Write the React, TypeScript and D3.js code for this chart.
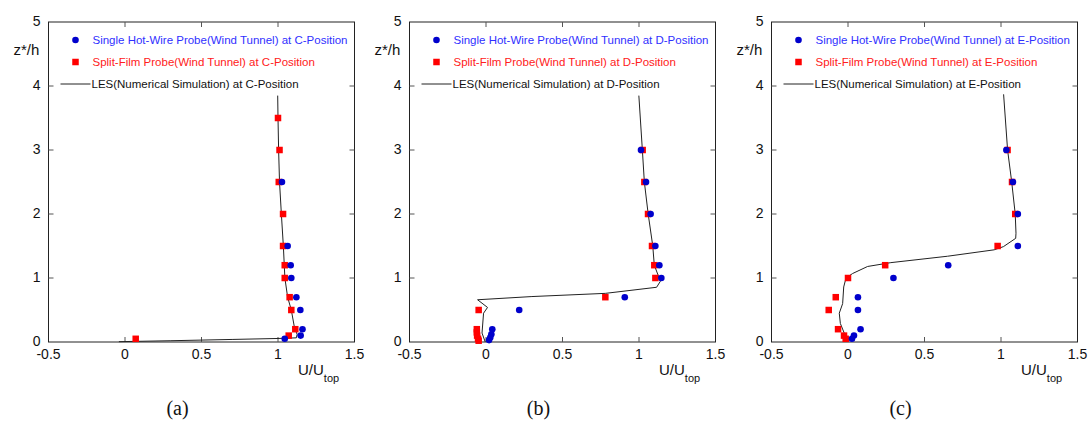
import React from "react";
import * as d3 from "d3";

type Pt = [number, number]; // [U/Utop, z*/h]

// ---- data ----
const positions = ["C", "D", "E"];
const panelLabels = ["(a)", "(b)", "(c)"];
const xTicks = [-0.5, 0, 0.5, 1, 1.5];
const yTicks = [0, 1, 2, 3, 4, 5];

const hotWireC: Pt[] = [
  [1.026, 2.5], [1.063, 1.5], [1.083, 1.2], [1.087, 1.0], [1.12, 0.7],
  [1.146, 0.5], [1.16, 0.2], [1.148, 0.1], [1.044, 0.05],
];
const splitFilmC: Pt[] = [
  [1.0, 3.5], [1.01, 3.0], [1.005, 2.5], [1.033, 2.0], [1.033, 1.5],
  [1.044, 1.2], [1.044, 1.0], [1.076, 0.7], [1.087, 0.5], [1.113, 0.2],
  [1.07, 0.1], [0.07, 0.05],
];
const lesC: Pt[] = [
  [-0.04, 0.005], [0.3, 0.02], [0.7, 0.04], [1.0, 0.055], [1.12, 0.065],
  [1.125, 0.12], [1.108, 0.22], [1.087, 0.5], [1.063, 0.7], [1.045, 1.0],
  [1.035, 1.5], [1.022, 2.0], [1.01, 2.5], [1.004, 3.0], [1.0, 3.5], [0.998, 3.85],
];

const hotWireD: Pt[] = [
  [1.013, 3.0], [1.046, 2.5], [1.076, 2.0], [1.107, 1.5], [1.133, 1.2],
  [1.146, 1.0], [0.907, 0.7], [0.217, 0.5], [0.041, 0.2], [0.035, 0.12],
  [0.028, 0.07], [0.02, 0.03],
];
const splitFilmD: Pt[] = [
  [1.024, 3.0], [1.035, 2.5], [1.059, 2.0], [1.085, 1.5], [1.1, 1.2],
  [1.107, 1.0], [0.78, 0.7], [-0.048, 0.5], [-0.06, 0.2], [-0.06, 0.15],
  [-0.058, 0.1], [-0.052, 0.05], [-0.048, 0.02],
];
const lesD: Pt[] = [
  [-0.005, 0.0], [-0.026, 0.14], [-0.016, 0.45], [0.01, 0.54], [-0.055, 0.66],
  [0.3, 0.71], [0.78, 0.76], [1.115, 0.855], [1.14, 0.95], [1.1, 1.2],
  [1.09, 1.5], [1.06, 2.0], [1.035, 2.5], [1.022, 3.0], [0.999, 3.85],
];

const hotWireE: Pt[] = [
  [1.035, 3.0], [1.078, 2.5], [1.11, 2.0], [1.11, 1.5], [0.655, 1.2],
  [0.297, 1.0], [0.065, 0.7], [0.065, 0.5], [0.082, 0.2], [0.039, 0.1],
  [0.026, 0.05],
];
const splitFilmE: Pt[] = [
  [1.043, 3.0], [1.072, 2.5], [1.093, 2.0], [0.978, 1.5], [0.243, 1.2],
  [0.0, 1.0], [-0.08, 0.7], [-0.126, 0.5], [-0.065, 0.2], [-0.026, 0.1],
  [-0.015, 0.05],
];
const lesE: Pt[] = [
  [-0.002, 0.03], [-0.024, 0.136], [-0.05, 0.29], [-0.057, 0.45], [-0.035, 0.6],
  [-0.028, 0.86], [-0.013, 1.0], [0.03, 1.07], [0.128, 1.18], [0.28, 1.24],
  [0.65, 1.34], [0.955, 1.44], [1.016, 1.49], [1.096, 1.62], [1.098, 1.7],
  [1.093, 2.0], [1.07, 2.5], [1.043, 3.0], [1.017, 3.87],
];

const hotWire = [hotWireC, hotWireD, hotWireE];
const splitFilm = [splitFilmC, splitFilmD, splitFilmE];
const les = [lesC, lesD, lesE];

// ---- layout ----
const W = 1091;
const H = 424;
const plotLefts = [48.5, 409.5, 771.5];
const plotTop = 22;
const plotW = 306;
const plotH = 320;
const tickLen = 5;
const uiFont = "'Liberation Sans', Arial, sans-serif";

function Panel({ i }: { i: number }) {
  const left = plotLefts[i];
  const x = d3.scaleLinear().domain([-0.5, 1.5]).range([left, left + plotW]);
  const y = d3.scaleLinear().domain([0, 5]).range([plotTop + plotH, plotTop]);
  const line = d3
    .line<Pt>()
    .x((d) => x(d[0]))
    .y((d) => y(d[1]));
  const pos = positions[i];
  const bottom = plotTop + plotH;
  const right = left + plotW;

  return (
    <g>
      {/* frame */}
      <rect x={left} y={plotTop} width={plotW} height={plotH} fill="none" stroke="#222" strokeWidth={1} />
      {/* inner ticks on all four sides */}
      {xTicks.slice(1, -1).map((t) => (
        <g key={"xt" + t} stroke="#555" strokeWidth={1}>
          <line x1={x(t)} x2={x(t)} y1={bottom} y2={bottom - tickLen} />
          <line x1={x(t)} x2={x(t)} y1={plotTop} y2={plotTop + tickLen} />
        </g>
      ))}
      {yTicks.slice(1, -1).map((t) => (
        <g key={"yt" + t} stroke="#555" strokeWidth={1}>
          <line x1={left} x2={left + tickLen} y1={y(t)} y2={y(t)} />
          <line x1={right} x2={right - tickLen} y1={y(t)} y2={y(t)} />
        </g>
      ))}
      {/* tick labels */}
      {xTicks.map((t) => (
        <text key={"xl" + t} x={x(t)} y={bottom + 17} textAnchor="middle" fontFamily={uiFont} fontSize={14} fill="#111">
          {t}
        </text>
      ))}
      {yTicks.map((t) => (
        <text key={"yl" + t} x={left - 8} y={y(t) + 4} textAnchor="end" fontFamily={uiFont} fontSize={14} fill="#111">
          {t}
        </text>
      ))}
      {/* axis titles */}
      <text x={left - 35} y={plotTop + 33} fontFamily={uiFont} fontSize={15} fill="#111">
        z*/h
      </text>
      <text x={right - 56.5} y={bottom + 33} fontFamily={uiFont} fontSize={15} fill="#111">
        U/U
        <tspan fontSize={11} dy={7}>top</tspan>
      </text>
      {/* LES line */}
      <path d={line(les[i]) ?? ""} fill="none" stroke="#222" strokeWidth={1} />
      {/* split film squares */}
      {splitFilm[i].map((d, k) => (
        <rect key={"s" + k} x={x(d[0]) - 3.25} y={y(d[1]) - 3.25} width={6.5} height={6.5} fill="#ff0000" />
      ))}
      {/* hot wire circles */}
      {hotWire[i].map((d, k) => (
        <circle key={"c" + k} cx={x(d[0])} cy={y(d[1])} r={3.3} fill="#0000cc" />
      ))}
      {/* legend */}
      <circle cx={left + 27} cy={plotTop + 18} r={3.3} fill="#0000cc" />
      <text x={left + 44} y={plotTop + 22} fontFamily={uiFont} fontSize={11.5} fill="#3030ff">
        {`Single Hot-Wire Probe(Wind Tunnel) at ${pos}-Position`}
      </text>
      <rect x={left + 23.75} y={plotTop + 36.75} width={6.5} height={6.5} fill="#ff0000" />
      <text x={left + 44} y={plotTop + 44} fontFamily={uiFont} fontSize={11.5} fill="#ff2020">
        {`Split-Film Probe(Wind Tunnel) at ${pos}-Position`}
      </text>
      <line x1={left + 12} x2={left + 42} y1={plotTop + 62} y2={plotTop + 62} stroke="#222" strokeWidth={1} />
      <text x={left + 43} y={plotTop + 66} fontFamily={uiFont} fontSize={11.5} fill="#111">
        {`LES(Numerical Simulation) at ${pos}-Position`}
      </text>
      {/* panel caption */}
      <text x={left + plotW / 2 - 24} y={415} textAnchor="middle" fontFamily="'Liberation Serif', 'DejaVu Serif', serif" fontSize={20} fill="#111">
        {panelLabels[i]}
      </text>
    </g>
  );
}

export default function App() {
  return (
    <svg width={W} height={H} style={{ position: "absolute", left: 0, top: 0, background: "#fff" }}>
      <rect width={W} height={H} fill="#fff" />
      {positions.map((_, i) => (
        <Panel key={i} i={i} />
      ))}
    </svg>
  );
}
